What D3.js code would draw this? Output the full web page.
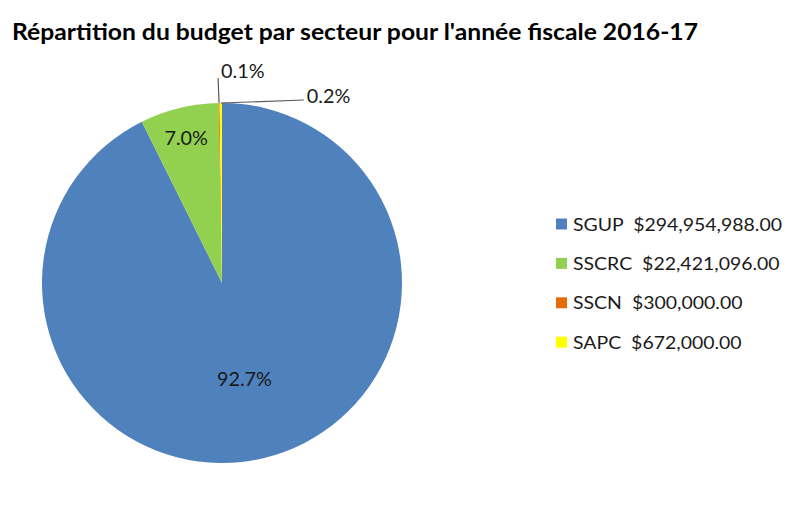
<!DOCTYPE html>
<html>
<head>
<meta charset="utf-8">
<script src="https://cdn.jsdelivr.net/npm/d3@7"></script>
<style>
  html, body { margin: 0; padding: 0; background: #fff; }
  svg { display: block; }
  text { font-family: Lato, "Open Sans", sans-serif; fill: #000; }
</style>
</head>
<body>
<svg id="chart" width="794" height="507"></svg>
<script>
// ---- data ----
const titleText = "Répartition du budget par secteur pour l'année fiscale 2016-17";
const categories = ["SGUP", "SSCRC", "SSCN", "SAPC"];
const values = [294954988, 22421096, 300000, 672000];
const amountLabels = ["$294,954,988.00", "$22,421,096.00", "$300,000.00", "$672,000.00"];
const colors = ["#4F81BD", "#92D050", "#E46C0A", "#FFFF00"];

// ---- layout config ----
const W = 794, H = 507;
const cx = 222, cy = 283, R = 180;
const CAP = 0.7165; // Lato cap-height ratio
const labelCfg = [
  { type: "inside", k: 0.545 },
  { type: "inside", k: 0.835 },
  { type: "leader", lineEnd: [-1, -25], textOff: [3, 0], anchor: "start" },
  { type: "leader", lineEnd: [83, -3], textOff: [3, 3], anchor: "start" }
];

const svg = d3.select("#chart");

// style group: font size from cap height, horizontal squeeze from one reference width
function makeStyle(capPx, refText, refWidth, weight) {
  const size = capPx / CAP;
  const probe = svg.append("text").style("font-size", size + "px")
    .style("font-weight", weight || "400").attr("xml:space", "preserve").text(refText);
  const factor = refWidth / probe.node().getComputedTextLength();
  probe.remove();
  return function (t) {
    t.style("font-size", size + "px").style("font-weight", weight || "400");
    const w = t.node().getComputedTextLength();
    t.attr("textLength", w * factor).attr("lengthAdjust", "spacingAndGlyphs");
  };
}

// title
const titleStyle = makeStyle(16, titleText, 686, "700");
const title = svg.append("text")
  .attr("x", 12).attr("y", 39.5)
  .text(titleText);
titleStyle(title);

// pie
const total = d3.sum(values);
const pie = d3.pie().sort(null).value(d => d)(values);
const arc = d3.arc().innerRadius(0).outerRadius(R);
const g = svg.append("g").attr("transform", `translate(${cx},${cy})`);

g.selectAll("path.slice").data(pie).join("path")
  .attr("class", "slice")
  .attr("d", arc)
  .attr("fill", (d, i) => colors[i]);

// percent labels
const pctFmt = v => (v / total * 100).toFixed(1) + "%";
const pctStyle = makeStyle(13.6, pctFmt(values[0]), 55);
pie.forEach((d, i) => {
  const cfg = labelCfg[i];
  const mid = (d.startAngle + d.endAngle) / 2;
  const t = g.append("text").text(pctFmt(d.data)).style("fill", "#1a1a1a");
  if (cfg.type === "inside") {
    const r = R * cfg.k;
    t.attr("x", Math.sin(mid) * r)
     .attr("y", -Math.cos(mid) * r)
     .attr("text-anchor", "middle")
     .attr("dominant-baseline", "central");
  } else {
    const x0 = Math.sin(mid) * R, y0 = -Math.cos(mid) * R;
    const x1 = x0 + cfg.lineEnd[0], y1 = y0 + cfg.lineEnd[1];
    g.insert("line", "text")
      .attr("x1", x0).attr("y1", y0)
      .attr("x2", x1).attr("y2", y1)
      .attr("stroke", "#5a5a5a").attr("stroke-width", 1.2);
    t.attr("x", x1 + cfg.textOff[0]).attr("y", y1 + cfg.textOff[1])
     .attr("text-anchor", cfg.anchor);
  }
  pctStyle(t);
});

// legend
const legX = 556, legY0 = 224, legStep = 39.4, sq = 11;
const leg = svg.append("g");
const legStyle = makeStyle(12.6, categories[0] + "  " + amountLabels[0], 209);
categories.forEach((c, i) => {
  const y = legY0 + i * legStep;
  leg.append("rect")
    .attr("x", legX).attr("y", y - sq / 2)
    .attr("width", sq).attr("height", sq)
    .attr("fill", colors[i]);
  const t = leg.append("text")
    .attr("x", legX + 17).attr("y", y)
    .attr("dominant-baseline", "central")
    .attr("xml:space", "preserve")
    .style("fill", "#1a1a1a")
    .text(c + "  " + amountLabels[i]);
  legStyle(t);
});
</script>
</body>
</html>
